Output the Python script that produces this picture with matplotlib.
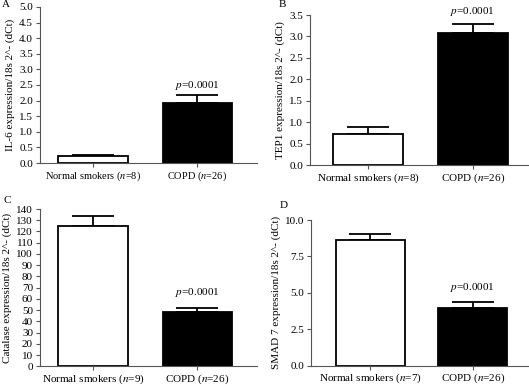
import matplotlib
matplotlib.use("Agg")
import matplotlib.pyplot as plt
import numpy as np

plt.rcParams['font.family'] = ['Liberation Serif', 'DejaVu Serif']
plt.rcParams['mathtext.fontset'] = 'stix'
plt.rcParams['font.size'] = 8

# data
groups_a = ['Normal smokers ($n$=8)', 'COPD ($n$=26)']
groups_b = ['Normal smokers ($n$=8)', 'COPD ($n$=26)']
groups_c = ['Normal smokers ($n$=9)', 'COPD ($n$=26)']
groups_d = ['Normal smokers ($n$=7)', 'COPD ($n$=26)']

il6_mean = [0.22, 1.93]
il6_err = [0.05, 0.25]
tep1_mean = [0.72, 3.07]
tep1_err = [0.16, 0.22]
catalase_mean = [125, 48]
catalase_err = [9, 3.5]
smad7_mean = [8.6, 3.95]
smad7_err = [0.45, 0.42]

p_label = '$p$=0.0001'

panels = [
    # letter, groups, means, errs, ylabel, yticks, fmt, axes rect, xlim, letter pos, xtick size, p offset
    ('A', groups_a, il6_mean, il6_err, 'IL-6 expression/18s 2^- (dCt)',
     np.arange(0, 5.01, 0.5), '%.1f', [0.0756, 0.5777, 0.41, 0.4042], (-0.51, 1.57), (0.004, 1.0), 7.5, 2),
    ('B', groups_b, tep1_mean, tep1_err, 'TEP1 expression/18s 2^- (dCt)',
     np.arange(0, 3.51, 0.5), '%.1f', [0.586, 0.5725, 0.412, 0.3885], (-0.56, 1.53), (0.527, 1.0), 8, 4),
    ('C', groups_c, catalase_mean, catalase_err, 'Catalase expression/18s 2^- (dCt)',
     np.arange(0, 141, 10), '%d', [0.0756, 0.051, 0.41, 0.4075], (-0.51, 1.57), (0.006, 0.492), 8, 7),
    ('D', groups_d, smad7_mean, smad7_err, 'SMAD 7 expression/18s 2^- (dCt)',
     np.arange(0, 10.01, 2.5), '%.1f', [0.588, 0.053, 0.41, 0.377], (-0.58, 1.54), (0.529, 0.478), 8, 6),
]

fig = plt.figure(figsize=(5.29, 3.86), dpi=100)

for letter, groups, means, errs, ylabel, yticks, fmt, rect, xlim, lpos, xsize, poff in panels:
    ax = fig.add_axes(rect)
    x = np.arange(len(groups))
    ax.bar(x, means, width=0.67, color=['white', 'black'], edgecolor='black', linewidth=1.3, zorder=2)
    ax.errorbar(x, means, yerr=[np.zeros(len(errs)), errs], fmt='none', ecolor='black',
                elinewidth=1.3, capsize=15, capthick=1.3, zorder=1)
    ax.set_xlim(*xlim)
    ax.set_ylim(yticks[0], yticks[-1])
    ax.set_yticks(yticks)
    ax.set_yticklabels([fmt % t for t in yticks])
    ax.set_xticks(x)
    ax.set_xticklabels(groups, fontsize=xsize)
    ax.set_ylabel(ylabel, labelpad=3)
    ax.spines['top'].set_visible(False)
    ax.spines['right'].set_visible(False)
    ax.spines['left'].set_color('#555555')
    ax.spines['bottom'].set_color('#555555')
    ax.tick_params(direction='out', length=3, width=0.8, color='#555555')
    ax.tick_params(axis='x', pad=1.5)
    ax.tick_params(axis='y', pad=2)
    ax.annotate(p_label, (1, means[1] + errs[1]), xytext=(0, poff), textcoords='offset points',
                ha='center', va='bottom', annotation_clip=False)
    fig.text(lpos[0], lpos[1], letter, ha='left', va='top', fontsize=8)

fig.savefig('out.png', dpi=100)
